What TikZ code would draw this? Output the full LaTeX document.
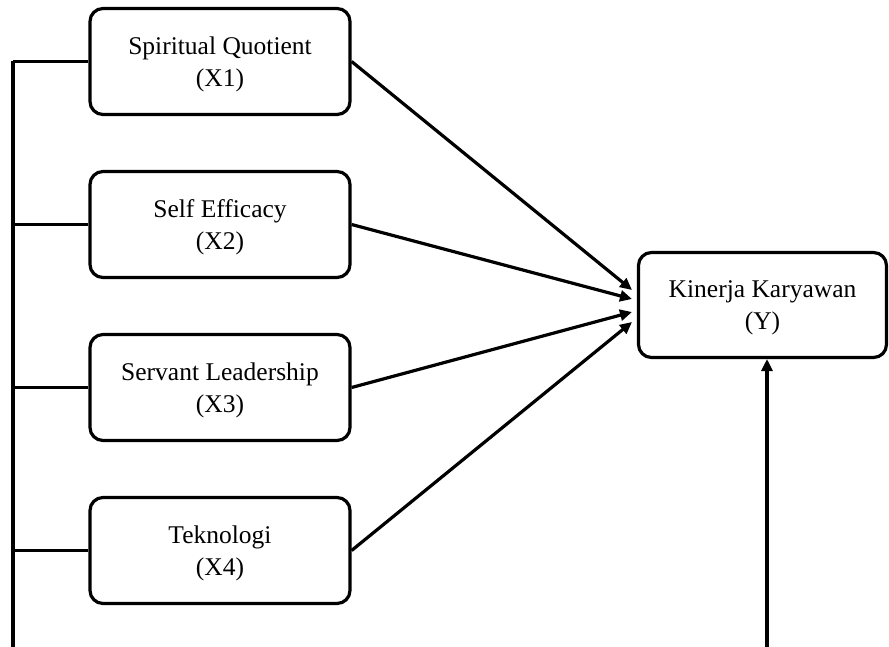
\documentclass[tikz,border=0pt]{standalone}
\usepackage{fontspec}
\setmainfont{Liberation Serif}
\usetikzlibrary{arrows.meta}
\begin{document}
\begin{tikzpicture}[x=1pt,y=-1pt,
  varbox/.style={draw, line width=3.2pt, rounded corners=13pt, minimum width=260pt, minimum height=106pt, align=center, font=\fontsize{25.5}{32}\selectfont, inner sep=0pt, text depth=-2pt},
  link/.style={line width=3.2pt},
  arr/.style={line width=3.2pt, -{Triangle[length=12pt,width=11pt]}}]
\useasboundingbox (0,0) rectangle (889,647);
\node[varbox] (x1) at (220,61.5) {Spiritual Quotient\\(X1)};
\node[varbox] (x2) at (220,224.5) {Self Efficacy\\(X2)};
\node[varbox] (x3) at (220,387.5) {Servant Leadership\\(X3)};
\node[varbox] (x4) at (220,550.5) {Teknologi\\(X4)};
\node[varbox, minimum width=248pt, minimum height=105pt] (y) at (762.5,305) {Kinerja Karyawan\\(Y)};
\coordinate (ltop) at (13,61.5);
\coordinate (lbot) at (13,648);
\coordinate (rbot) at (767,648);
\coordinate (e1) at (632,290);
\coordinate (e2) at (632,299);
\coordinate (e3) at (632,312);
\coordinate (e4) at (632,322);
\coordinate (eb) at (767,359);
\draw[link] (ltop) -- (lbot);
\draw[link] (ltop) -- (x1.west);
\draw[link] (13,224.5) -- (x2.west);
\draw[link] (13,387.5) -- (x3.west);
\draw[link] (13,550.5) -- (x4.west);
\draw[arr] (x1.east) -- (e1);
\draw[arr] (x2.east) -- (e2);
\draw[arr] (x3.east) -- (e3);
\draw[arr] (x4.east) -- (e4);
\draw[arr] (rbot) -- (eb);
\end{tikzpicture}
\end{document}
